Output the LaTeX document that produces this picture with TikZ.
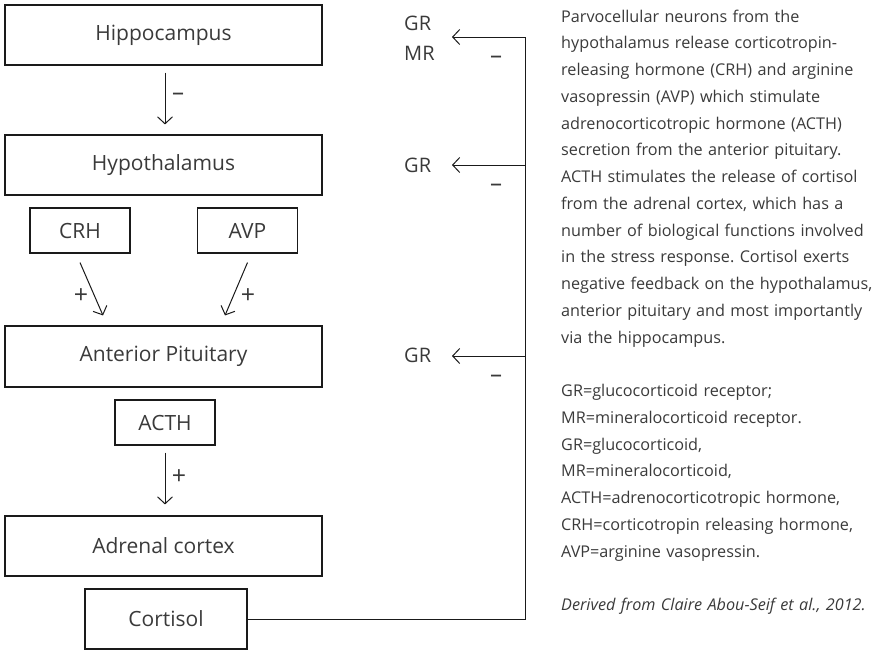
\documentclass[tikz,border=0pt]{standalone}
\usepackage{fontspec}
\setmainfont{Open Sans}
\usetikzlibrary{arrows.meta}
\definecolor{txt}{HTML}{3A3A3A}
\definecolor{ln}{HTML}{1A1A1A}
\begin{document}
\frenchspacing
\begin{tikzpicture}[x=1pt,y=-1pt,
  box/.style={draw=ln, line width=1.1pt, inner sep=0pt, font=\fontsize{21}{24}\selectfont, text=txt},
  bigbox/.style={box, minimum width=317pt, minimum height=60pt},
  smallbox/.style={box, minimum width=100pt, minimum height=45pt},
  arr/.style={draw=ln, line width=1pt, -{Straight Barb[length=7pt,width=15pt,line width=1pt]}},
  fbline/.style={draw=ln, line width=1pt},
  sign/.style={font=\fontsize{25}{28}\selectfont, text=txt, inner sep=0pt},
  minus/.style={font=\fontsize{24}{26}\selectfont, text=txt, inner sep=0pt},
  rlabel/.style={font=\fontsize{20}{30}\selectfont, text=txt, inner sep=0pt, align=left, anchor=west},
  para/.style={font=\fontsize{16.2}{26.75}\selectfont, text=txt, inner sep=0pt, align=left, text width=330pt, anchor=north west}
]
\useasboundingbox (0,0) rectangle (880,651);

% left chain
\node[bigbox] (hippo) at (163.5,35) {Hippocampus};
\node[bigbox] (hypo) at (163.5,165) {Hypothalamus};
\node[smallbox] (crh) at (80,230.5) {CRH};
\node[smallbox] (avp) at (247.5,230.5) {AVP};
\node[bigbox, minimum height=61pt] (ap) at (163.5,356.5) {Anterior Pituitary};
\node[smallbox] (acth) at (165,422.5) {ACTH};
\node[bigbox] (adr) at (163.5,546) {Adrenal cortex};
\node[box, minimum width=162pt, minimum height=60pt] (cort) at (166,619) {Cortisol};

% arrows
\draw[arr] ([xshift=1.5pt,yshift=-7pt]hippo.south) -- ([xshift=1.5pt,yshift=10pt]hypo.north);
\draw[arr] ([yshift=-9pt]crh.south) -- ([xshift=-60.5pt,yshift=10pt]ap.north);
\draw[arr] ([yshift=-9pt]avp.south) -- ([xshift=61.5pt,yshift=10pt]ap.north);
\draw[arr] ([yshift=-7pt]acth.south) -- ([xshift=1.5pt,yshift=11pt]adr.north);

\node[minus] (s1) at (178,97) {–};
\node[sign] (s2) at (81,296) {+};
\node[sign] (s3) at (248,296) {+};
\node[sign] (s4) at (179,477) {+};

% feedback
\coordinate (fb0) at (525,619);
\coordinate (t1) at (525,37);
\coordinate (t2) at (525,165);
\coordinate (t3) at (525,356);
\coordinate (e1) at (452,37);
\coordinate (e2) at (452,165);
\coordinate (e3) at (452,356);
\draw[fbline] (cort.east) -- (fb0) -- (t1);
\draw[arr] (t1) -- (e1);
\draw[arr] (t2) -- (e2);
\draw[arr] (t3) -- (e3);

\node[rlabel] (grmr) at (404,38) {GR\\MR};
\node[rlabel] (gr2) at (404,165) {GR};
\node[rlabel] (gr3) at (404,355) {GR};
\node[minus] (m1) at (496,60) {–};
\node[minus] (m2) at (496,188) {–};
\node[minus] (m3) at (496,379) {–};

% description
\node[para] (desc) at (561,9.5) {Parvocellular neurons from the\\
hypothalamus release corticotropin-\\
releasing hormone (CRH) and arginine\\
vasopressin (AVP) which stimulate\\
adrenocorticotropic hormone (ACTH)\\
secretion from the anterior pituitary.\\
ACTH stimulates the release of cortisol\\
from the adrenal cortex, which has a\\
number of biological functions involved\\
in the stress response. Cortisol exerts\\
negative feedback on the hypothalamus,\\
anterior pituitary and most importantly\\
via the hippocampus.\\
\mbox{}\\
GR=glucocorticoid receptor;\\
MR=mineralocorticoid receptor.\\
GR=glucocorticoid,\\
MR=mineralocorticoid,\\
ACTH=adrenocorticotropic hormone,\\
CRH=corticotropin releasing hormone,\\
AVP=arginine vasopressin.\\
\mbox{}\\
\textit{Derived from Claire Abou-Seif et al., 2012.}};
\end{tikzpicture}
\end{document}
